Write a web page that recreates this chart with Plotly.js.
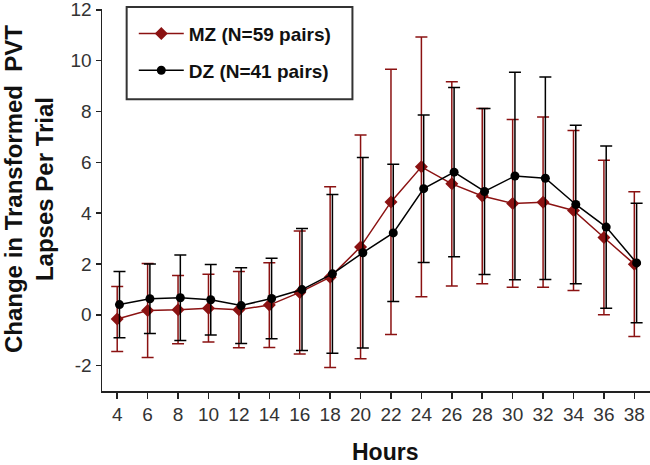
<!DOCTYPE html>
<html>
<head>
<meta charset="utf-8">
<script src="https://cdn.plot.ly/plotly-3.0.1.min.js"></script>
<style>html,body{margin:0;padding:0;background:#fff;}#chart{width:650px;height:465px;}</style>
</head>
<body>
<div id="chart"></div>
<script>
const hours = [4,6,8,10,12,14,16,18,20,22,24,26,28,30,32,34,36,38];
const mzMean = [-0.17,0.17,0.2,0.26,0.2,0.38,0.88,1.48,2.67,4.44,5.82,5.15,4.67,4.38,4.43,4.1,3.04,1.99];
const mzErr  = [1.28,1.85,1.34,1.33,1.5,1.67,2.42,3.56,4.4,5.22,5.11,4.02,3.45,3.3,3.35,3.15,3.04,2.85];
const dzMean = [0.4,0.63,0.67,0.59,0.36,0.64,0.99,1.61,2.44,3.22,4.96,5.61,4.85,5.46,5.37,4.34,3.45,2.04];
const dzErr  = [1.3,1.37,1.68,1.39,1.49,1.58,2.4,3.12,3.75,2.7,2.9,3.33,3.27,4.08,3.98,3.12,3.19,2.35];
const mzName = 'MZ (N=59 pairs)';
const dzName = 'DZ (N=41 pairs)';
const yTicks = [-2,0,2,4,6,8,10,12];
const yTickText = ['-2','0','2','4','6','8','10','12'];

const dzDodge = 0.15;
const font = "'Liberation Sans', Arial, sans-serif";
const red = '#8b1212';

const traces = [
  {
    x: hours, y: mzMean, name: mzName, type: 'scatter', mode: 'lines+markers',
    legendgroup: 'a',
    line: {color: red, width: 1.5},
    marker: {symbol: 'diamond', size: 10, color: red},
    error_y: {type: 'data', array: mzErr, symmetric: true, color: red, thickness: 1.5, width: 6}
  },
  {
    x: hours.map(h => h + dzDodge), y: dzMean, name: dzName, type: 'scatter', mode: 'lines+markers',
    legendgroup: 'b',
    line: {color: '#000', width: 1.5},
    marker: {symbol: 'circle', size: 9, color: '#000'},
    error_y: {type: 'data', array: dzErr, symmetric: true, color: '#000', thickness: 1.5, width: 6}
  }
];

const layout = {
  width: 650, height: 465,
  margin: {l: 102, r: 0, t: 9, b: 74},
  paper_bgcolor: '#fff', plot_bgcolor: '#fff',
  showlegend: true,
  legend: {
    x: 0.058, y: 0.985, xanchor: 'left', yanchor: 'top',
    borderwidth: 0, bgcolor: 'rgba(0,0,0,0)',
    itemwidth: 45,
    font: {family: font, size: 19, color: '#111', weight: 'bold'},
    traceorder: 'grouped', tracegroupgap: 9
  },
  shapes: [
    {type: 'rect', xref: 'paper', yref: 'paper', x0: 0.045, x1: 0.457, y0: 0.764, y1: 1.005,
     line: {color: '#333', width: 2}, fillcolor: 'rgba(0,0,0,0)', layer: 'above'}
  ],
  xaxis: {
    range: [3.0, 39.03], tickvals: hours, ticktext: hours.map(String),
    showgrid: false, zeroline: false, showline: true, linecolor: '#222', linewidth: 1.5,
    ticks: 'outside', ticklen: 6, tickwidth: 1.5, tickcolor: '#222',
    tickfont: {family: font, size: 19, color: '#333'}
  },
  yaxis: {
    range: [-3, 12.03], tickvals: yTicks, ticktext: yTickText,
    ticklabeloverflow: 'allow',
    showgrid: false, zeroline: false, showline: true, linecolor: '#222', linewidth: 1.5,
    ticks: 'outside', ticklen: 5, tickwidth: 1.5, tickcolor: '#222',
    tickfont: {family: font, size: 19, color: '#333'}
  },
  annotations: [
    {
      text: 'Change in Transformed&nbsp; PVT<br>Lapses Per Trial', textangle: -90,
      xref: 'paper', yref: 'paper', x: -0.133, y: 0.529, xanchor: 'center', yanchor: 'middle',
      showarrow: false, font: {family: font, size: 24, color: '#111', weight: 'bold'}
    },
    {
      text: 'Hours', xref: 'paper', yref: 'paper', x: 0.516, y: -0.16,
      xanchor: 'center', yanchor: 'middle', showarrow: false,
      font: {family: font, size: 23, color: '#111', weight: 'bold'}
    }
  ]
};

Plotly.newPlot('chart', traces, layout, {staticPlot: true, displayModeBar: false});
</script>
</body>
</html>
